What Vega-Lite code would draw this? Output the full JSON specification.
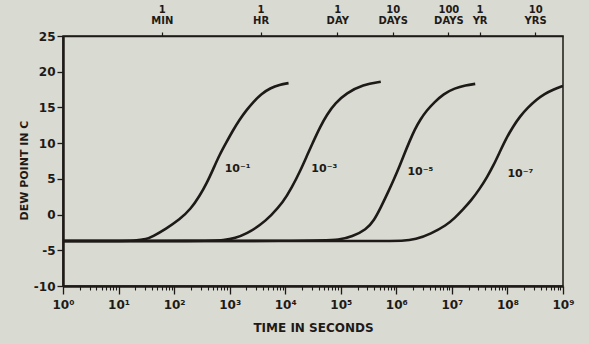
{
  "$schema": "https://vega.github.io/schema/vega-lite/v6.json",
  "width": 500,
  "height": 250,
  "autosize": {"type": "none"},
  "padding": {"left": 63, "top": 36, "right": 26, "bottom": 58},
  "background": "#d9dad2",
  "config": {
    "view": {"stroke": "#1e1a17", "strokeWidth": 1.5},
    "font": "DejaVu Sans",
    "axis": {"grid": false, "domainColor": "#1e1a17", "tickColor": "#1e1a17", "labelColor": "#1e1a17", "titleColor": "#1e1a17", "labelFont": "DejaVu Sans", "titleFont": "DejaVu Sans"}
  },
  "encoding": {
    "y": {
      "field": "dp", "type": "quantitative",
      "scale": {"domain": [-10, 25], "nice": false, "zero": false},
      "axis": {
        "values": [-10, -5, 0, 5, 10, 15, 20, 25],
        "labelExpr": "'' + datum.value",
        "title": "DEW POINT IN C",
        "titleFontSize": 11,
        "titleFontWeight": "bold",
        "titlePadding": 4,
        "titleY": 134,
        "labelFontSize": 12,
        "labelFontWeight": "bold",
        "labelPadding": 2,
        "tickSize": 6,
        "tickWidth": 1.3,
        "domainWidth": 2.5
      }
    }
  },
  "layer": [
    {
      "data": {
        "values": [
          {"curve": "a", "t": 1, "dp": -3.7},
          {"curve": "a", "t": 10, "dp": -3.7},
          {"curve": "a", "t": 20, "dp": -3.65},
          {"curve": "a", "t": 31.6, "dp": -3.45},
          {"curve": "a", "t": 41.7, "dp": -3.05},
          {"curve": "a", "t": 70.8, "dp": -2.0},
          {"curve": "a", "t": 126, "dp": -0.7},
          {"curve": "a", "t": 200, "dp": 0.8},
          {"curve": "a", "t": 288, "dp": 2.6},
          {"curve": "a", "t": 398, "dp": 4.6},
          {"curve": "a", "t": 501, "dp": 6.3},
          {"curve": "a", "t": 661, "dp": 8.4},
          {"curve": "a", "t": 871, "dp": 10.1},
          {"curve": "a", "t": 1148, "dp": 11.8},
          {"curve": "a", "t": 1514, "dp": 13.3},
          {"curve": "a", "t": 1995, "dp": 14.6},
          {"curve": "a", "t": 2692, "dp": 15.8},
          {"curve": "a", "t": 3715, "dp": 16.9},
          {"curve": "a", "t": 5370, "dp": 17.7},
          {"curve": "a", "t": 7943, "dp": 18.2},
          {"curve": "a", "t": 11482, "dp": 18.4},
          {"curve": "b", "t": 1, "dp": -3.7},
          {"curve": "b", "t": 398, "dp": -3.7},
          {"curve": "b", "t": 794, "dp": -3.6},
          {"curve": "b", "t": 1259, "dp": -3.3},
          {"curve": "b", "t": 1995, "dp": -2.7},
          {"curve": "b", "t": 3548, "dp": -1.5},
          {"curve": "b", "t": 5623, "dp": -0.1},
          {"curve": "b", "t": 9120, "dp": 1.7},
          {"curve": "b", "t": 13183, "dp": 3.8},
          {"curve": "b", "t": 18621, "dp": 6.1},
          {"curve": "b", "t": 25119, "dp": 8.4},
          {"curve": "b", "t": 32359, "dp": 10.3},
          {"curve": "b", "t": 42658, "dp": 12.3},
          {"curve": "b", "t": 56234, "dp": 14.0},
          {"curve": "b", "t": 79433, "dp": 15.6},
          {"curve": "b", "t": 125893, "dp": 17.0},
          {"curve": "b", "t": 251189, "dp": 18.2},
          {"curve": "b", "t": 524807, "dp": 18.6},
          {"curve": "c", "t": 1, "dp": -3.7},
          {"curve": "c", "t": 39811, "dp": -3.7},
          {"curve": "c", "t": 95499, "dp": -3.55},
          {"curve": "c", "t": 158489, "dp": -3.1},
          {"curve": "c", "t": 288403, "dp": -2.1},
          {"curve": "c", "t": 398107, "dp": -0.8},
          {"curve": "c", "t": 524807, "dp": 1.0},
          {"curve": "c", "t": 707946, "dp": 3.1},
          {"curve": "c", "t": 912011, "dp": 5.0},
          {"curve": "c", "t": 1148154, "dp": 6.8},
          {"curve": "c", "t": 1412538, "dp": 8.6},
          {"curve": "c", "t": 1737801, "dp": 10.3},
          {"curve": "c", "t": 2137962, "dp": 11.9},
          {"curve": "c", "t": 2691535, "dp": 13.3},
          {"curve": "c", "t": 3548134, "dp": 14.6},
          {"curve": "c", "t": 4786301, "dp": 15.7},
          {"curve": "c", "t": 7079458, "dp": 16.9},
          {"curve": "c", "t": 11220185, "dp": 17.7},
          {"curve": "c", "t": 17782794, "dp": 18.1},
          {"curve": "c", "t": 26302680, "dp": 18.3},
          {"curve": "d", "t": 1, "dp": -3.7},
          {"curve": "d", "t": 630957, "dp": -3.7},
          {"curve": "d", "t": 1258925, "dp": -3.7},
          {"curve": "d", "t": 2238721, "dp": -3.5},
          {"curve": "d", "t": 4168694, "dp": -2.7},
          {"curve": "d", "t": 7943282, "dp": -1.5},
          {"curve": "d", "t": 11220185, "dp": -0.5},
          {"curve": "d", "t": 15848932, "dp": 0.7},
          {"curve": "d", "t": 22387211, "dp": 2.0},
          {"curve": "d", "t": 31622777, "dp": 3.6},
          {"curve": "d", "t": 42657952, "dp": 5.2},
          {"curve": "d", "t": 56234133, "dp": 6.9},
          {"curve": "d", "t": 74131024, "dp": 8.9},
          {"curve": "d", "t": 95499259, "dp": 10.7},
          {"curve": "d", "t": 125892541, "dp": 12.3},
          {"curve": "d", "t": 165958691, "dp": 13.7},
          {"curve": "d", "t": 234422882, "dp": 15.0},
          {"curve": "d", "t": 331131121, "dp": 16.1},
          {"curve": "d", "t": 467735141, "dp": 16.9},
          {"curve": "d", "t": 660693448, "dp": 17.5},
          {"curve": "d", "t": 1000000000, "dp": 18.0}
        ]
      },
      "mark": {"type": "line", "interpolate": "basis", "color": "#1e1a17", "strokeWidth": 2.6, "clip": true},
      "encoding": {
        "x": {
          "field": "t", "type": "quantitative",
          "scale": {"type": "log", "domain": [1, 1000000000]},
          "axis": {
            "orient": "bottom",
            "values": [1, 10, 100, 1000, 10000, 100000, 1000000, 10000000, 100000000, 1000000000],
            "labelExpr": "'10' + ['⁰','¹','²','³','⁴','⁵','⁶','⁷','⁸','⁹'][round(log(datum.value)/LN10)]",
            "labelOverlap": false,
            "labelFlush": false,
            "labelFontSize": 12,
            "labelFontWeight": "bold",
            "labelPadding": 5,
            "tickSize": 8,
            "tickWidth": 1.3,
            "domainWidth": 2.5,
            "title": "TIME IN SECONDS",
            "titleFontSize": 12,
            "titleFontWeight": "bold",
            "titlePadding": 12
          }
        },
        "detail": {"field": "curve"}
      }
    },
    {
      "data": {
        "values": [
          {"label": "10⁻¹", "t": 813, "dp": 6.0},
          {"label": "10⁻³", "t": 29512, "dp": 5.9},
          {"label": "10⁻⁵", "t": 1584893, "dp": 5.6},
          {"label": "10⁻⁷", "t": 100000000, "dp": 5.3}
        ]
      },
      "mark": {"type": "text", "align": "left", "baseline": "alphabetic", "font": "DejaVu Sans", "fontSize": 11, "fontWeight": "bold", "color": "#1e1a17"},
      "encoding": {
        "x": {
          "field": "t", "type": "quantitative",
          "scale": {"type": "log", "domain": [1, 1000000000]},
          "axis": {
            "orient": "top",
            "values": [60, 3600, 86400, 864000, 8640000, 31536000, 315360000],
            "labelExpr": "datum.value == 60 ? ['1','MIN'] : datum.value == 3600 ? ['1','HR'] : datum.value == 86400 ? ['1','DAY'] : datum.value == 864000 ? ['10','DAYS'] : datum.value == 8640000 ? ['100','DAYS'] : datum.value == 31536000 ? ['1','YR'] : ['10','YRS']",
            "labelOverlap": false,
            "labelFlush": false,
            "labelFontSize": 10,
            "labelFontWeight": "bold",
            "labelLineHeight": 11,
            "labelPadding": 18,
            "ticks": true,
            "tickSize": 4,
            "tickWidth": 1.2,
            "domainWidth": 1.5,
            "title": null
          }
        },
        "text": {"field": "label"}
      }
    },
    {
      "data": {
        "values": [
          {"label": "10⁻¹", "t": 813, "dp": 6.0},
          {"label": "10⁻³", "t": 29512, "dp": 5.9},
          {"label": "10⁻⁵", "t": 1584893, "dp": 5.6},
          {"label": "10⁻⁷", "t": 100000000, "dp": 5.3}
        ]
      },
      "mark": {"type": "point", "opacity": 0},
      "encoding": {
        "x": {
          "field": "t", "type": "quantitative",
          "scale": {"type": "log", "domain": [1, 1000000000]},
          "axis": {
            "orient": "bottom",
            "values": [2,3,4,5,6,7,8,9,20,30,40,50,60,70,80,90,200,300,400,500,600,700,800,900,2000,3000,4000,5000,6000,7000,8000,9000,20000,30000,40000,50000,60000,70000,80000,90000,200000,300000,400000,500000,600000,700000,800000,900000,2000000,3000000,4000000,5000000,6000000,7000000,8000000,9000000,20000000,30000000,40000000,50000000,60000000,70000000,80000000,90000000,200000000,300000000,400000000,500000000,600000000,700000000,800000000,900000000],
            "labels": false,
            "domain": false,
            "ticks": true,
            "tickSize": 4,
            "tickWidth": 1.1,
            "title": null
          }
        }
      }
    }
  ],
  "resolve": {"axis": {"x": "independent"}}
}
